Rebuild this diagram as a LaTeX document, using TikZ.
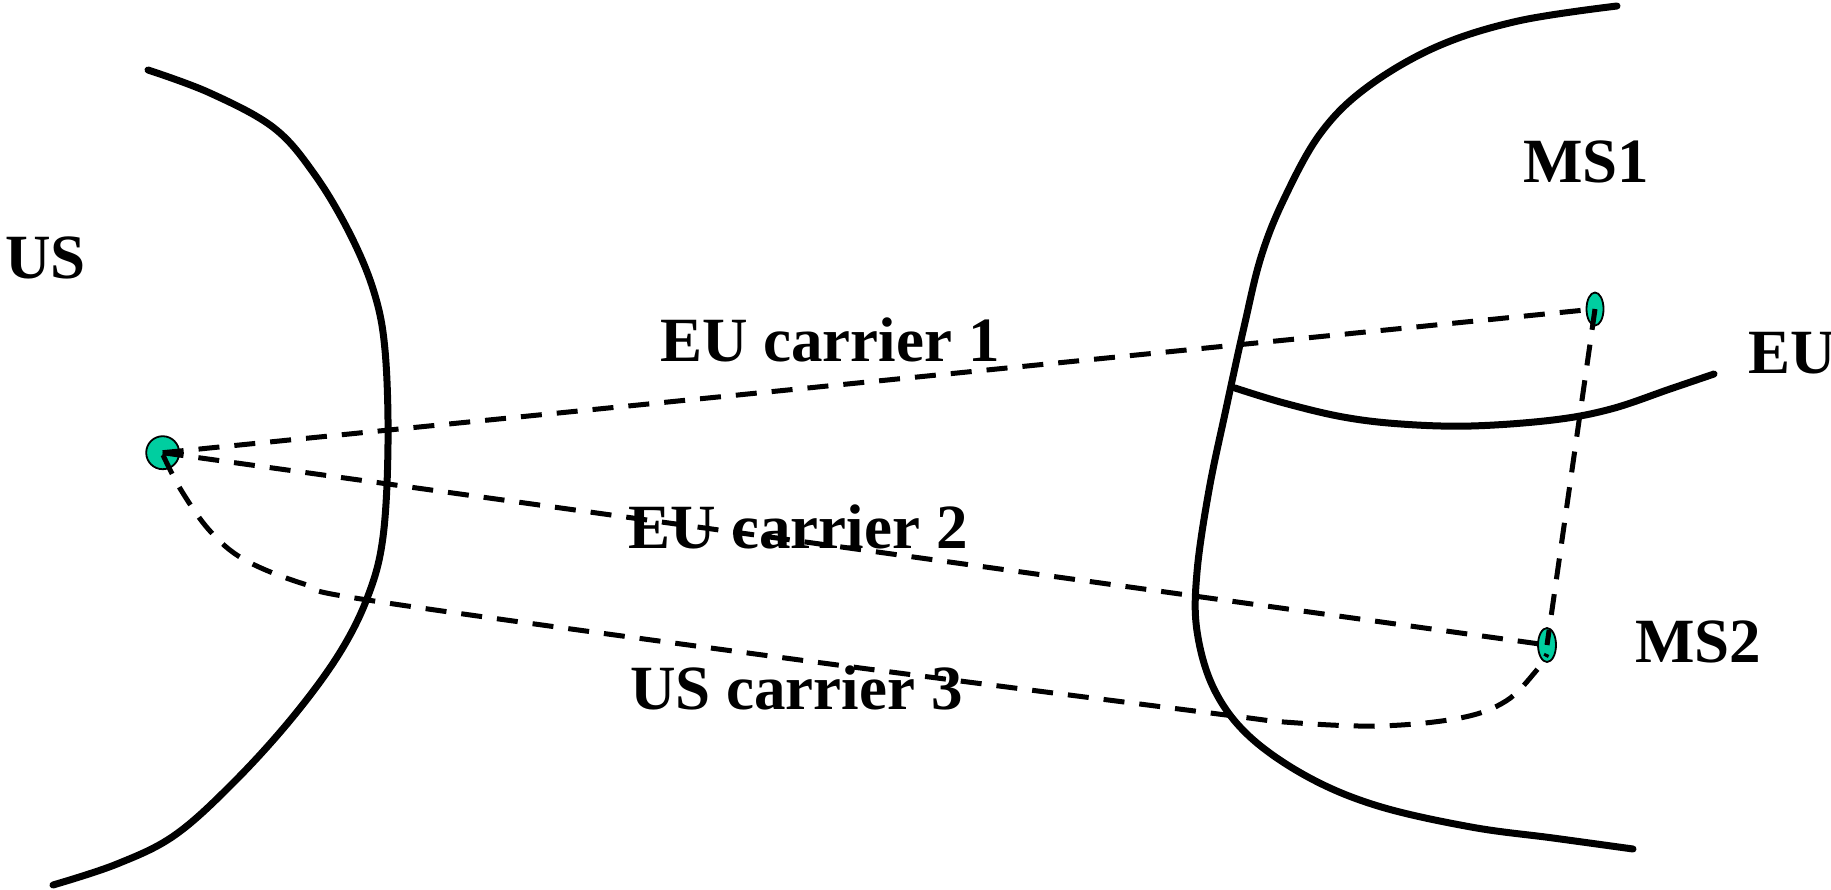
\documentclass[tikz,border=0pt]{standalone}
\usepackage{fontspec}
\setmainfont{Liberation Serif}
\usetikzlibrary{shapes.geometric}
\definecolor{dotfill}{RGB}{0,206,160}
\tikzset{
  border/.style={line width=7pt, line cap=round, line join=round},
  link/.style={line width=5pt, dash pattern=on 21pt off 15pt},
  site/.style={ellipse, draw=black, line width=1.8pt, fill=dotfill, inner sep=0pt},
  lbl/.style={anchor=base west, inner sep=0pt, font=\fontsize{63}{70}\selectfont\bfseries}
}
\begin{document}
\begin{tikzpicture}[x=1pt,y=-1pt]
\useasboundingbox (0,0) rectangle (1831,889);
% borders
\draw[border] plot[smooth, tension=0.6] coordinates {(148,70) (210,93) (274,128) (315,175) (350,234) (374,292) (385,350) (388,444) (383,537) (368,596) (339,654) (292,718) (234,782) (175,835) (117,864) (53,885)};
\draw[border] plot[smooth, tension=0.6] coordinates {(1617,6) (1518,21) (1436,47) (1366,88) (1320,134) (1284,199) (1261,257) (1244,327) (1226,409) (1209,490) (1197,572) (1197,631) (1214,689) (1249,736) (1308,777) (1378,806) (1471,827) (1553,838) (1633,849)};
\draw[border] plot[smooth, tension=0.6] coordinates {(1235,388) (1284,403) (1343,417) (1401,424) (1471,426) (1553,420) (1611,409) (1670,389) (1714,374)};
% sites
\node[site, minimum width=33pt, minimum height=33pt] (us) at (162.7,452.7) {};
\node[site, minimum width=17pt, minimum height=33pt] (ms1) at (1595,309) {};
\node[site, minimum width=18pt, minimum height=34pt] (ms2) at (1547,645) {};
% links
\draw[link] (us.center) -- (ms1.center);
\draw[link] (us.center) -- (ms2.center);
\draw[link] (ms1.center) -- (ms2.center);
\draw[link] plot[smooth, tension=0.6] coordinates {(163,455) (181,490) (210,531) (245,560) (304,584) (374,601) (800,660) (1226,715) (1284,722) (1378,726) (1460,718) (1506,701) (1536,671) (1547,654)};
% labels
\node[lbl] (lus) at (5,278) {US};
\node[lbl] (lms1) at (1523,182) {MS1};
\node[lbl] (lms2) at (1635,662) {MS2};
\node[lbl] (leu) at (1748,373) {EU};
\node[lbl] (lc1) at (660,361) {EU carrier 1};
\node[lbl] (lc2) at (628,548) {EU carrier 2};
\node[lbl] (lc3) at (630,709) {US carrier 3};
\end{tikzpicture}
\end{document}
